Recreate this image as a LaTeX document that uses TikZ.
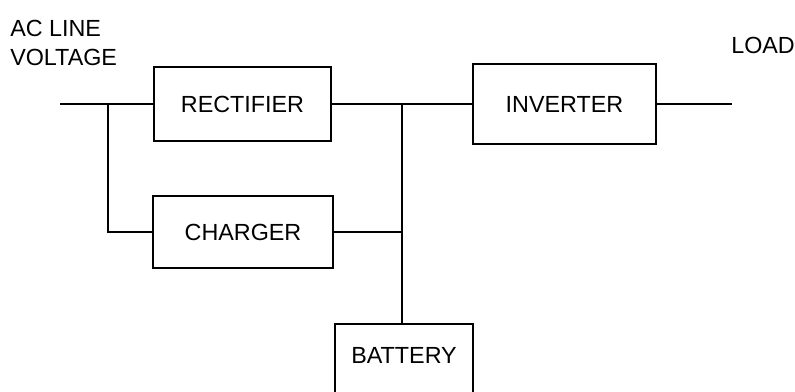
\documentclass[tikz,border=0pt]{standalone}
\usepackage{fontspec}
\setmainfont{Liberation Sans}
\begin{document}
\begin{tikzpicture}[
    x=0.75pt, y=-0.75pt,
    block/.style={rectangle, draw, line width=1.2pt, inner sep=0pt, minimum width=#1, text height=12.2pt, text depth=0pt, font=\fontsize{17.5}{20}\selectfont},
    wire/.style={line width=1.2pt},
    lbl/.style={font=\fontsize{17.5}{22}\selectfont, inner sep=0pt, align=left}
]
    \useasboundingbox (0,0) rectangle (795,392);
    \clip (0,0) rectangle (795,392);

    % Blocs
    \node[block=132.75pt, minimum height=55.5pt] (rect) at (242.5,104) {RECTIFIER};
    \node[block=135pt, minimum height=54pt] (charger) at (243,232) {CHARGER};
    \node[block=137.25pt, minimum height=60pt] (inv) at (564.5,104) {INVERTER};
    \node[block=103.5pt, minimum height=55.5pt, text height=13pt, text depth=9.8pt] (bat) at (404,361) {BATTERY};

    % Textes
    \node[lbl, anchor=north west] (ac) at (10,20) {AC LINE\\VOLTAGE};
    \node[lbl, anchor=north west] (load) at (731,37) {LOAD};

    % Points de connexion
    \coordinate (in) at (60,104);
    \coordinate (split) at (108,104);
    \coordinate (bus) at (402,104);
    \coordinate (out) at (732,101);

    % Liaisons
    \draw[wire] (in) -- (rect.west);
    \draw[wire] (split) |- (charger.west);
    \draw[wire] (rect.east) -- (inv.west);
    \draw[wire] (bus) -- (bus |- bat.north);
    \draw[wire] (charger.east) -- (charger.east -| bus);
    \draw[wire] (inv.east) -- (inv.east -| out);
\end{tikzpicture}
\end{document}
